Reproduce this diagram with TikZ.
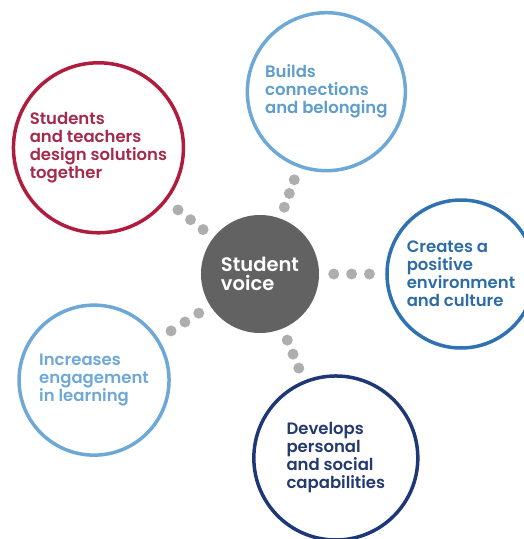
\documentclass[tikz,border=0pt]{standalone}
\usepackage{fontspec}
\setmainfont{Poppins}[BoldFont={Poppins SemiBold}]
\usepackage{tikz}

\definecolor{svred}{HTML}{B01C3E}
\definecolor{svredtext}{HTML}{A42B4C}
\definecolor{svsky}{HTML}{6EA8D6}
\definecolor{svskytext}{HTML}{5F9DCA}
\definecolor{svblue}{HTML}{2F72B2}
\definecolor{svbluetext}{HTML}{2E6CA4}
\definecolor{svnavy}{HTML}{1E3877}
\definecolor{svnavytext}{HTML}{233A70}
\definecolor{svgray}{HTML}{626262}
\definecolor{svdot}{HTML}{AEAEAE}

\begin{document}
\begin{tikzpicture} [
    x = 1pt, y = 1pt,
    c/.style = {circle, draw, line width=3.5pt, inner sep=0pt, align=left,
    font=\bfseries\fontsize{16.5}{18}\selectfont},
    hubc/.style = {circle, fill=svgray, text=white, inner sep=0pt,
    minimum size=118pt, align=left, font=\bfseries\fontsize{19.5}{19.5}\selectfont},
    dot/.style = {circle, fill=svdot, inner sep=0pt, minimum size=11pt}
    ]
    \useasboundingbox (-260,-265) rectangle (263,274);

    \node[hubc](hub) at (0,0) {Student\\voice};
    \node[c, draw=svsky, text=svskytext, minimum size=158pt](build)
        at (70:194) {Builds\\connections\\and belonging};
    \node[c, draw=svred, text=svredtext, minimum size=170pt](design)
        at (142:205) {Students\\and teachers\\design solutions\\together};
    \node[c, draw=svblue, text=svbluetext, minimum size=148pt](culture)
        at (0:201) {Creates a\\positive\\environment\\and culture};
    \node[c, draw=svsky, text=svsky, minimum size=150pt](engage)
        at (212.6:197) {Increases\\engagement\\in learning};
    \node[c, draw=svnavy, text=svnavytext, minimum size=164pt](develop)
        at (-67.6:199) {Develops\\personal\\and social\\capabilities};

    % dotted links from the hub
    \foreach \t in {build,design,culture,engage,develop}
        \foreach \p in {.22,.49,.76}
            \path (hub) -- node[dot, pos=\p] {} (\t);

\end{tikzpicture}
\end{document}
